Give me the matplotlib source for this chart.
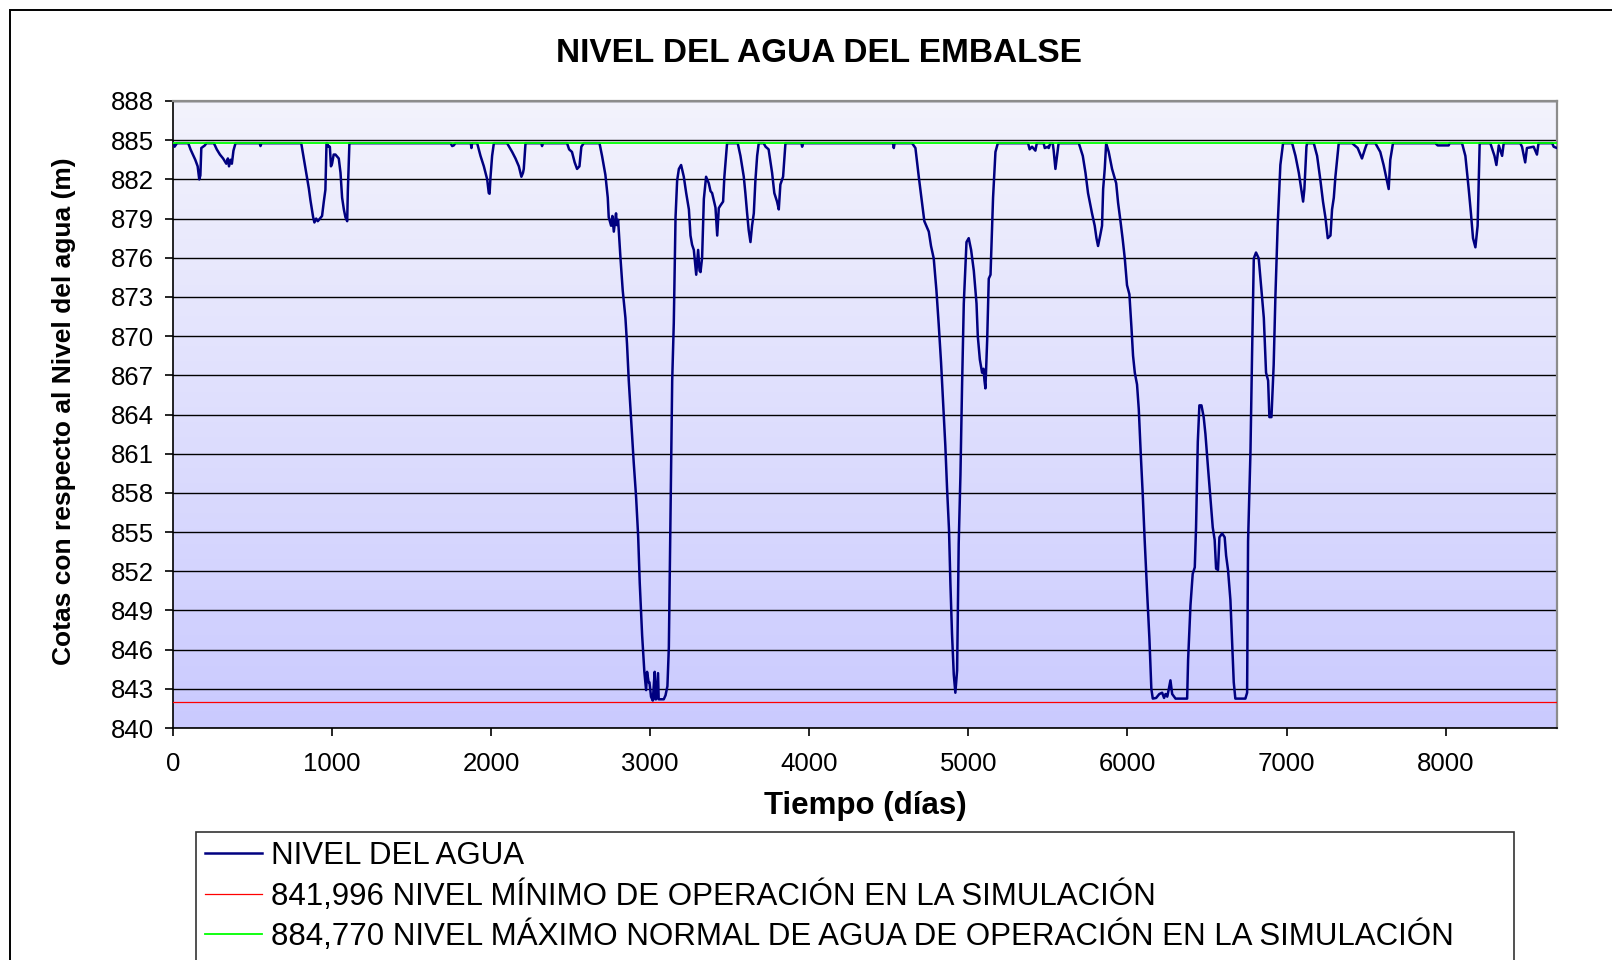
import matplotlib
matplotlib.use("Agg")
import matplotlib.pyplot as plt
import numpy as np

plt.rcParams['font.family'] = ['Liberation Sans', 'DejaVu Sans']

# Serie: dia, cota del agua (m)
dias = [0, 10, 25, 96, 110, 125, 140, 155, 165, 172, 178, 200, 210,
        257, 275, 295, 315, 335, 345, 352, 362, 370, 380, 393,
        545, 550, 556,
        806, 833, 854, 864, 881, 889, 900, 910, 917, 937, 948, 958, 965, 969, 978, 986,
        993, 1000, 1010, 1021, 1042, 1053, 1063, 1074, 1084, 1095, 1099, 1109,
        1745, 1755, 1765, 1775, 1872, 1876, 1880,
        1912, 1933, 1954, 1975, 1985, 1990, 1996, 2006, 2017,
        2100, 2132, 2153, 2174, 2190, 2200, 2205, 2216,
        2315, 2320, 2325,
        2477, 2490, 2508, 2525, 2540, 2555, 2567, 2582,
        2681, 2697, 2718, 2733, 2739, 2754, 2762, 2771, 2785, 2790, 2798, 2813, 2827,
        2844, 2854, 2865, 2879, 2896, 2911, 2924, 2934, 2949, 2963, 2974, 2980, 2990,
        2995, 3005, 3016, 3028, 3032, 3037, 3049, 3053, 3085, 3096, 3108, 3117, 3127,
        3138, 3148, 3159, 3169, 3180, 3194, 3211, 3226, 3243, 3253, 3263, 3274, 3289,
        3301, 3310, 3316, 3326, 3337, 3351, 3368, 3379, 3389, 3410, 3421, 3431, 3441,
        3458, 3466, 3483,
        3550, 3567, 3588, 3598, 3609, 3619, 3630, 3640, 3651, 3661, 3672, 3682,
        3713, 3725, 3744, 3766, 3780, 3797, 3808, 3818, 3835, 3850,
        3950, 3955, 3960, 4526, 4531, 4536,
        4646, 4667, 4688, 4709, 4723, 4751, 4765, 4782, 4799, 4813, 4828, 4840, 4855,
        4866, 4878, 4887, 4897, 4908, 4918, 4929, 4939, 4950, 4960, 4971, 4988, 5002,
        5017, 5034, 5051, 5059, 5072, 5086, 5095, 5101, 5107, 5118, 5128, 5139, 5155,
        5170, 5185,
        5375, 5385, 5400, 5421, 5430, 5473, 5480, 5500, 5505, 5515, 5530, 5536, 5547,
        5555, 5567,
        5694, 5719, 5736, 5752, 5777, 5794, 5805, 5815, 5830, 5840, 5847, 5857, 5866,
        5882, 5903, 5929, 5941, 5956, 5970, 5983, 5997, 6012, 6025, 6035, 6046, 6060,
        6071, 6083, 6096, 6108, 6123, 6138, 6150, 6159, 6180, 6200, 6218, 6230, 6239,
        6250, 6260, 6270, 6281, 6302, 6375, 6381, 6396, 6410, 6423, 6431, 6442, 6452,
        6465, 6479, 6490, 6507, 6521, 6536, 6548, 6557, 6569, 6578, 6595, 6611, 6620,
        6632, 6647, 6657, 6668, 6678, 6741, 6752, 6758, 6773, 6783, 6794, 6808, 6825,
        6842, 6857, 6871, 6884, 6892, 6905, 6919, 6930, 6944, 6961, 6978,
        7035, 7056, 7077, 7092, 7104, 7112, 7125, 7129,
        7171, 7192, 7213, 7229, 7244, 7259, 7276, 7286, 7297, 7307, 7328,
        7412, 7447, 7474, 7495, 7506,
        7558, 7589, 7610, 7631, 7642, 7652, 7669,
        7935, 7950, 8019, 8025,
        8103, 8124, 8145, 8159, 8172, 8187, 8201, 8214,
        8281, 8307, 8319, 8334, 8355, 8365,
        8469, 8480, 8500, 8511, 8553, 8574, 8584,
        8670, 8679, 8700]

nivel = [884.77, 884.5, 884.77, 884.77, 884.3, 883.9, 883.5, 883.0, 882.0, 882.3, 884.4, 884.6, 884.77,
         884.77, 884.3, 883.9, 883.6, 883.2, 883.6, 883.0, 883.5, 883.2, 884.2, 884.77,
         884.77, 884.55, 884.77,
         884.77, 882.8, 881.3, 880.4, 879.1, 878.7, 879.0, 878.8, 878.9, 879.2, 880.3, 881.2, 884.77, 884.77, 884.5, 884.5,
         883.0, 883.2, 883.9, 883.9, 883.6, 882.5, 880.6, 879.7, 879.1, 878.8, 881.1, 884.77,
         884.77, 884.55, 884.6, 884.77, 884.77, 884.4, 884.77,
         884.77, 883.8, 883.0, 882.0, 880.95, 880.9, 882.2, 883.8, 884.77,
         884.77, 884.1, 883.6, 883.0, 882.2, 882.5, 882.8, 884.77,
         884.77, 884.55, 884.77,
         884.77, 884.3, 884.1, 883.3, 882.8, 883.0, 884.5, 884.77,
         884.77, 883.8, 882.35, 880.6, 879.1, 878.45, 879.2, 878.0, 879.4, 878.5, 878.9, 875.95, 873.5,
         871.4, 869.4, 866.6, 863.8, 860.35, 857.7, 854.7, 851.1, 847.1, 844.3, 842.9, 844.3, 843.5,
         843.5, 842.4, 842.1, 844.3, 842.2, 842.2, 844.2, 842.2, 842.2, 842.5, 843.2, 846.2, 856.0,
         866.6, 871.0, 879.1, 881.9, 882.8, 883.1, 882.2, 880.95, 879.7, 877.7, 877.0, 876.6, 874.7,
         876.6, 875.0, 874.9, 876.0, 880.5, 882.2, 881.7, 881.1, 880.95, 879.85, 877.7, 879.8, 880.0,
         880.3, 882.2, 884.77,
         884.77, 883.8, 882.2, 880.95, 879.4, 878.1, 877.2, 878.45, 879.4, 881.9, 883.8, 884.77,
         884.77, 884.5, 884.3, 882.5, 880.95, 880.3, 879.7, 881.6, 882.2, 884.77,
         884.77, 884.5, 884.77, 884.77, 884.4, 884.77,
         884.77, 884.4, 882.2, 880.2, 878.8, 878.0, 876.9, 875.95, 873.5, 870.96, 868.0, 865.2, 861.6,
         858.3, 855.2, 851.0, 847.2, 844.1, 842.7, 844.4, 854.1, 859.4, 866.1, 872.5, 877.2, 877.5,
         876.6, 875.0, 872.5, 870.0, 868.2, 867.2, 867.5, 866.6, 866.0, 869.7, 874.4, 874.7, 880.6,
         884.1, 884.77,
         884.77, 884.3, 884.5, 884.2, 884.77, 884.77, 884.4, 884.5, 884.4, 884.77, 884.77, 884.2, 882.8,
         883.6, 884.77,
         884.77, 883.8, 882.5, 880.95, 879.4, 878.45, 877.5, 876.9, 877.8, 878.45, 881.26, 882.8, 884.77,
         884.1, 882.8, 881.7, 880.2, 878.8, 877.4, 875.95, 873.9, 873.2, 870.65, 868.5, 867.2, 866.3,
         864.4, 861.1, 857.85, 854.4, 850.5, 846.8, 843.0, 842.25, 842.3, 842.6, 842.7, 842.3, 842.6,
         842.4, 843.0, 843.65, 842.6, 842.25, 842.25, 845.2, 849.4, 851.8, 852.3, 855.35, 861.9, 864.7,
         864.7, 863.8, 862.5, 859.8, 857.7, 855.35, 854.4, 852.2, 852.1, 854.6, 854.9, 854.6, 853.2,
         852.1, 849.8, 846.7, 843.5, 842.25, 842.25, 842.7, 854.3, 861.1, 868.5, 875.95, 876.4, 875.95,
         873.5, 871.4, 867.2, 866.6, 863.8, 863.8, 867.8, 873.1, 878.45, 883.1, 884.77,
         884.77, 883.8, 882.5, 881.26, 880.3, 881.26, 884.5, 884.77,
         884.77, 883.8, 881.9, 880.3, 879.1, 877.5, 877.7, 879.7, 880.6, 882.2, 884.77,
         884.77, 884.4, 883.6, 884.4, 884.77,
         884.77, 884.1, 883.1, 881.9, 881.26, 883.5, 884.77,
         884.77, 884.6, 884.6, 884.77,
         884.77, 883.8, 881.26, 879.4, 877.5, 876.8, 878.45, 884.77,
         884.77, 883.8, 883.1, 884.6, 883.8, 884.77,
         884.77, 884.5, 883.3, 884.4, 884.5, 883.9, 884.77,
         884.77, 884.5, 884.4]

nivel_minimo = 841.996
nivel_maximo = 884.770
dia_final = 8700

etiquetas = ["NIVEL DEL AGUA",
             "841,996 NIVEL MÍNIMO DE OPERACIÓN EN LA SIMULACIÓN",
             "884,770 NIVEL MÁXIMO NORMAL DE AGUA DE OPERACIÓN EN LA SIMULACIÓN"]

W, H = 1612, 960
fig = plt.figure(figsize=(W / 100, H / 100), dpi=100)
ax = fig.add_axes([173 / W, 1 - 728 / H, (1557 - 173) / W, (728 - 101) / H])

# fondo degradado del area de trazado
arriba = np.array([243, 243, 252]) / 255
abajo = np.array([202, 202, 255]) / 255
t = np.linspace(0, 1, 256)[:, None, None]
grad = arriba * (1 - t) + abajo * t
ax.imshow(grad, extent=[0, dia_final, 840, 888], aspect='auto', zorder=0, origin='upper')

ax.plot(dias, nivel, color='#000080', lw=1.8, zorder=3, label=etiquetas[0])
ax.plot([0, dia_final], [nivel_minimo, nivel_minimo], color='#FF0000', lw=0.9, zorder=4, label=etiquetas[1])
ax.plot([0, dia_final], [nivel_maximo, nivel_maximo], color='#00FF00', lw=1.3, zorder=4, label=etiquetas[2])

ax.set_xlim(0, dia_final)
ax.set_ylim(840, 888)
ax.set_xticks(np.arange(0, 8001, 1000))
ax.set_yticks(np.arange(840, 889, 3))
ax.yaxis.grid(True, color='black', lw=1.0)
ax.set_axisbelow(True)
ax.grid(False, axis='x')

ax.tick_params(axis='both', labelsize=18.5, direction='out', length=6, width=1.2)
ax.tick_params(axis='y', pad=8)
ax.tick_params(axis='x', pad=11)
for lado in ['left', 'bottom']:
    ax.spines[lado].set_color('black')
    ax.spines[lado].set_linewidth(1.2)
for lado in ['top', 'right']:
    ax.spines[lado].set_color('#8c8c8c')
    ax.spines[lado].set_linewidth(1.6)

ax.set_xlabel("Tiempo (días)", fontsize=22.5, fontweight='bold')
ax.xaxis.set_label_coords(0.5, (728 - 806) / 627)
ax.xaxis.label.set_va('center')
ax.set_ylabel("Cotas con respecto al Nivel del agua (m)", fontsize=19, fontweight='bold')
ax.yaxis.set_label_coords((64 - 173) / 1384, 0.505)
ax.yaxis.label.set_va('center')

fig.text(819 / W, 1 - 54 / H, "NIVEL DEL AGUA DEL EMBALSE", fontsize=24, fontweight='bold',
         ha='center', va='center')

# marco del grafico (solo se ven borde izquierdo y superior)
marco = plt.Rectangle((10 / W, -0.1), 1.2, 1.1 - 10 / H, transform=fig.transFigure,
                      fill=False, edgecolor='black', lw=1.4, clip_on=False)
fig.add_artist(marco)

leg = fig.legend(loc='upper left', bbox_to_anchor=(196 / W, 1 - 955 / H, (1514 - 196) / W, (955 - 832) / H),
                 mode='expand', fontsize=22.5, frameon=True, fancybox=False, borderaxespad=0,
                 handlelength=1.8, handletextpad=0.3, labelspacing=0.28, borderpad=0.3)
leg.get_frame().set_edgecolor('black')
leg.get_frame().set_linewidth(1.2)

fig.savefig("out.png", dpi=100)
